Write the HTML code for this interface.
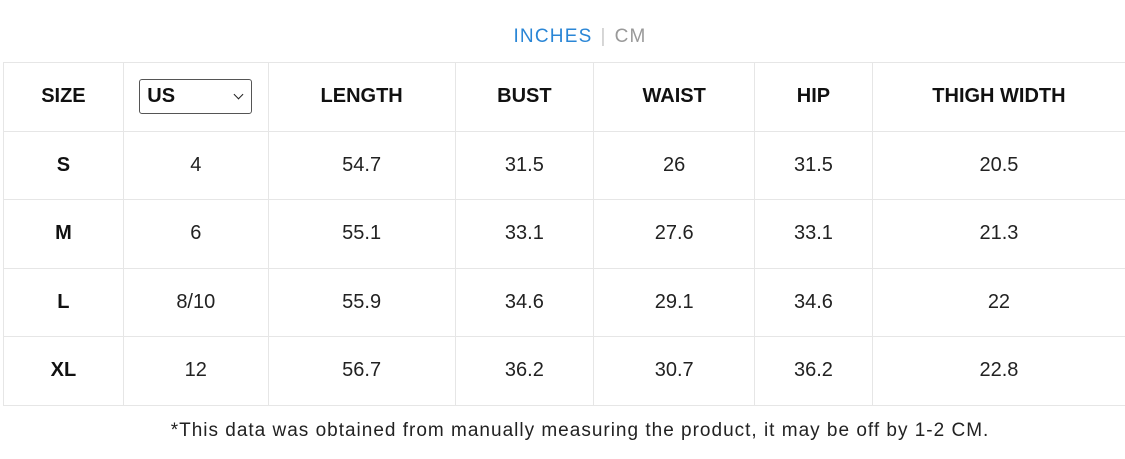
<!DOCTYPE html>
<html><head><style>
body{margin:0;width:1125px;height:459px;background:#fff;font-family:"Liberation Sans",sans-serif;position:relative;overflow:hidden}
.tabs{position:absolute;top:26px;left:0;width:1160px;text-align:center;font-size:19px;letter-spacing:1.2px}
.tabs .a{color:#2a86d6}.tabs .s{color:#ccc;margin:0 8px}.tabs .b{color:#999}
table{position:absolute;left:3px;top:62px;border-collapse:collapse;table-layout:fixed}
td{border:1px solid #e6e6e6;text-align:center;height:67.5px;padding:0;font-size:20px;color:#222}
tr.h td{font-weight:bold;color:#111}
td.f{font-weight:bold;color:#111}
tr td:last-child{border-right:none}
.sel{display:inline-block;width:113px;height:35px;border:1px solid #555;border-radius:3px;text-align:left;box-sizing:border-box;padding-left:7px;line-height:33px;position:relative;font-weight:bold}
.sel:after{content:"";position:absolute;right:9px;top:11px;width:6px;height:6px;border-right:1.5px solid #222;border-bottom:1.5px solid #222;transform:rotate(45deg)}
.note{position:absolute;top:420px;left:0;width:1160px;text-align:center;font-size:19px;letter-spacing:1px;color:#222}
</style></head><body>
<div class="tabs"><span class="a">INCHES</span><span class="s">|</span><span class="b">CM</span></div>
<table>
<colgroup><col style="width:120px"><col style="width:145px"><col style="width:187px"><col style="width:139px"><col style="width:161px"><col style="width:118px"><col style="width:253px"></colgroup>
<tr class="h"><td>SIZE</td><td><span class="sel">US</span></td><td>LENGTH</td><td>BUST</td><td>WAIST</td><td>HIP</td><td>THIGH WIDTH</td></tr>
<tr><td class="f">S</td><td>4</td><td>54.7</td><td>31.5</td><td>26</td><td>31.5</td><td>20.5</td></tr>
<tr><td class="f">M</td><td>6</td><td>55.1</td><td>33.1</td><td>27.6</td><td>33.1</td><td>21.3</td></tr>
<tr><td class="f">L</td><td>8/10</td><td>55.9</td><td>34.6</td><td>29.1</td><td>34.6</td><td>22</td></tr>
<tr><td class="f">XL</td><td>12</td><td>56.7</td><td>36.2</td><td>30.7</td><td>36.2</td><td>22.8</td></tr>
</table>
<div class="note">*This data was obtained from manually measuring the product, it may be off by 1-2 CM.</div>
</body></html>
